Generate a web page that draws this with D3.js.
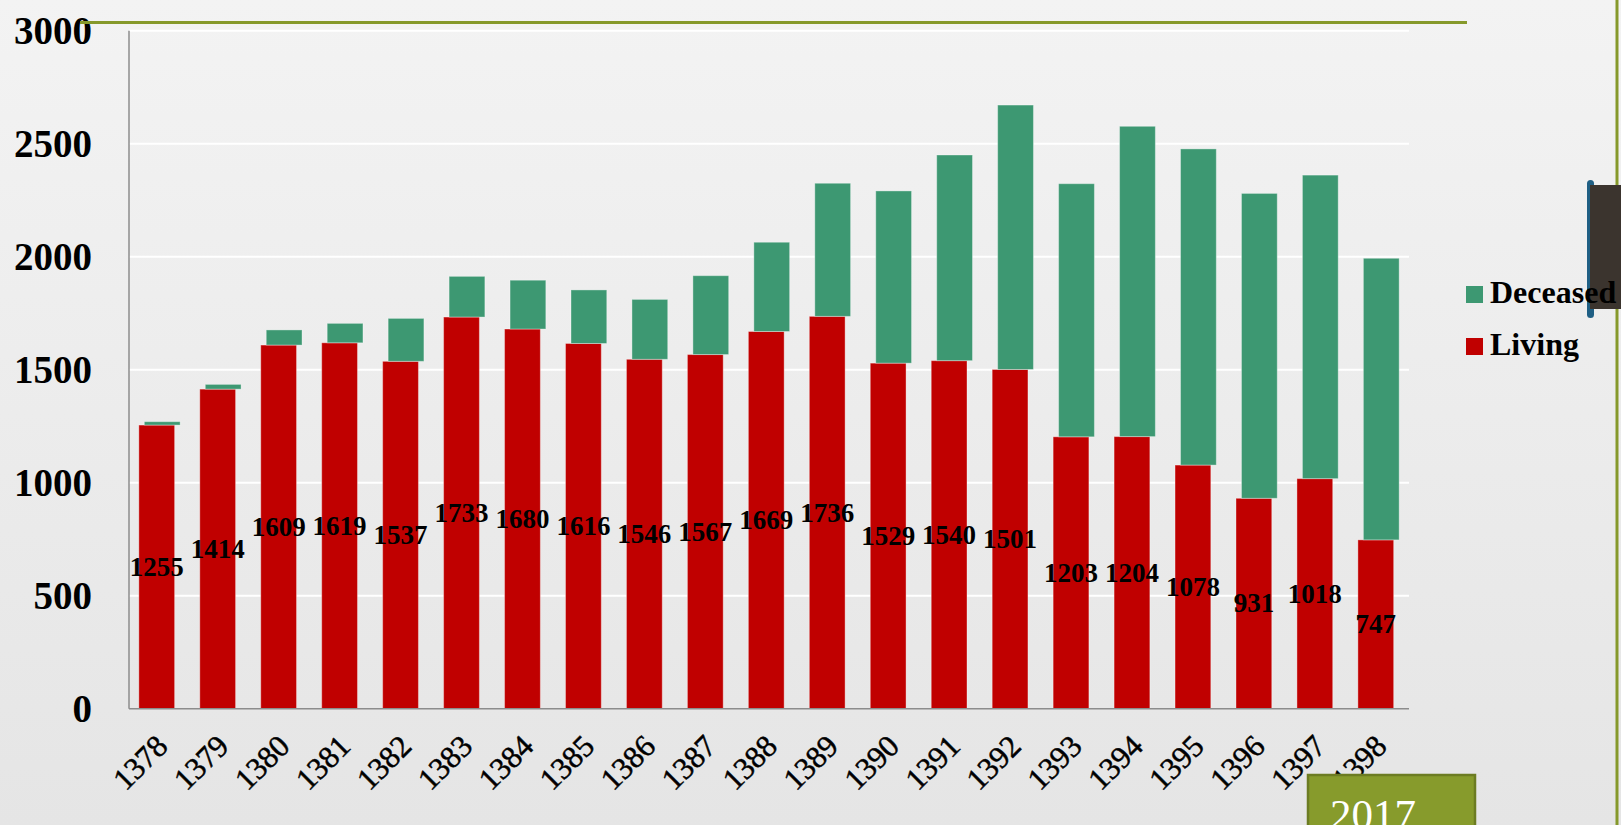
<!DOCTYPE html>
<html>
<head>
<meta charset="utf-8">
<script src="https://cdn.jsdelivr.net/npm/d3@7"></script>
<style>
  body { margin: 0; overflow: hidden; }
  svg { display: block; }
</style>
</head>
<body>
<script>
var years = ["1378", "1379", "1380", "1381", "1382", "1383", "1384", "1385", "1386", "1387",
  "1388", "1389", "1390", "1391", "1392", "1393", "1394", "1395", "1396", "1397", "1398"];
var living = [1255, 1414, 1609, 1619, 1537, 1733, 1680, 1616, 1546, 1567,
  1669, 1736, 1529, 1540, 1501, 1203, 1204, 1078, 931, 1018, 747];
var deceased = [15, 21, 67, 86, 190, 180, 216, 237, 265, 349,
  395, 589, 762, 910, 1170, 1120, 1373, 1399, 1349, 1343, 1246];
var yTicks = [0, 500, 1000, 1500, 2000, 2500, 3000];
var seriesNames = ["Living", "Deceased"];

var W = 1621, H = 825;
var red = "#c00000", green = "#3d9872", olive = "#86992b";
var serif = "'Liberation Serif', 'Times New Roman', serif";

var rows = years.map(function(y, i) {
  return {year: y, Living: living[i], Deceased: deceased[i]};
});

var svg = d3.select("body").append("svg")
    .attr("width", W)
    .attr("height", H);

var defs = svg.append("defs");
var bg = defs.append("linearGradient")
    .attr("id", "bg")
    .attr("x1", 0).attr("y1", 0).attr("x2", 0).attr("y2", 1);
bg.append("stop").attr("offset", "0%").attr("stop-color", "#f3f3f3");
bg.append("stop").attr("offset", "100%").attr("stop-color", "#e5e5e5");

svg.append("rect")
    .attr("width", W)
    .attr("height", H)
    .attr("fill", "url(#bg)");

var x = d3.scaleBand()
    .domain(years)
    .range([129, 1409])
    .paddingInner(0.323)
    .paddingOuter(0.1615);

var y = d3.scaleLinear()
    .domain([0, 3000])
    .range([708.7, 30.7]);

var barW = x.bandwidth() * 0.867;

// gridlines
svg.append("g")
  .selectAll("line")
    .data(yTicks.slice(1))
  .enter().append("line")
    .attr("x1", 129)
    .attr("x2", 1409)
    .attr("y1", function(d) { return y(d); })
    .attr("y2", function(d) { return y(d); })
    .attr("stroke", "#ffffff")
    .attr("stroke-width", 2);

var stack = d3.stack().keys(seriesNames)(rows);

// bars: living on left, deceased stacked and shifted to the right of the cluster
svg.append("g")
  .selectAll("g")
    .data(stack)
  .enter().append("g")
    .attr("fill", function(d) { return d.key == "Living" ? red : green; })
  .selectAll("rect")
    .data(function(d) { return d.map(function(v) { v.key = d.key; return v; }); })
  .enter().append("rect")
    .attr("x", function(d) {
      return d.key == "Living" ? x(d.data.year) : x(d.data.year) + x.bandwidth() - barW;
    })
    .attr("y", function(d) { return y(d[1]); })
    .attr("width", barW)
    .attr("height", function(d) { return y(d[0]) - y(d[1]); })
    .attr("stroke", "#ffffff")
    .attr("stroke-opacity", 0.35)
    .attr("stroke-width", 1);

// axes
var axisG = svg.append("g").attr("stroke", "#8c8c8c").attr("stroke-width", 1.5);
axisG.append("line")
    .attr("x1", 129).attr("x2", 129)
    .attr("y1", y(3000)).attr("y2", y(0));
axisG.append("line")
    .attr("x1", 129).attr("x2", 1409)
    .attr("y1", y(0)).attr("y2", y(0));

// y tick labels
svg.append("g")
  .selectAll("text")
    .data(yTicks)
  .enter().append("text")
    .attr("x", 92)
    .attr("y", function(d) { return y(d) + 13; })
    .attr("text-anchor", "end")
    .style("font-family", serif)
    .style("font-weight", "bold")
    .style("font-size", "39px")
    .attr("fill", "#000")
    .text(function(d) { return d; });

// x tick labels
svg.append("g")
  .selectAll("text")
    .data(years)
  .enter().append("text")
    .attr("text-anchor", "end")
    .attr("transform", function(d) {
      return "translate(" + [x(d) + x.bandwidth() / 2 + 10, 748] + ")rotate(-45)";
    })
    .style("font-family", serif)
    .style("font-size", "31px")
    .style("stroke", "#000")
    .style("stroke-width", 0.5)
    .attr("fill", "#000")
    .text(function(d) { return d; });

// data labels in the middle of living bars
svg.append("g")
  .selectAll("text")
    .data(rows)
  .enter().append("text")
    .attr("x", function(d) { return x(d.year) + barW / 2; })
    .attr("y", function(d) { return (y(0) + y(d.Living)) / 2 + 9; })
    .attr("text-anchor", "middle")
    .style("font-family", serif)
    .style("font-weight", "bold")
    .style("font-size", "27px")
    .attr("fill", "#000")
    .text(function(d) { return d.Living; });

// decorations
svg.append("line")
    .attr("x1", 80).attr("x2", 1467)
    .attr("y1", 22.5).attr("y2", 22.5)
    .attr("stroke", olive)
    .attr("stroke-width", 3);

svg.append("line")
    .attr("x1", 1617).attr("x2", 1617)
    .attr("y1", 0).attr("y2", H)
    .attr("stroke", olive)
    .attr("stroke-width", 3);

svg.append("rect")
    .attr("x", 1587).attr("y", 180)
    .attr("width", 7).attr("height", 138)
    .attr("rx", 3.5)
    .attr("fill", "#1f5f84");
svg.append("rect")
    .attr("x", 1590).attr("y", 185)
    .attr("width", 31).attr("height", 124)
    .attr("fill", "#3b342e");

// legend
var legend = svg.append("g")
  .selectAll("g")
    .data(["Deceased", "Living"])
  .enter().append("g")
    .attr("transform", function(d, i) { return "translate(1466," + (286 + i * 52) + ")"; });
legend.append("rect")
    .attr("width", 17)
    .attr("height", 17)
    .attr("fill", function(d) { return d == "Living" ? red : green; });
legend.append("text")
    .attr("x", 24)
    .attr("y", 17)
    .style("font-family", serif)
    .style("font-weight", "bold")
    .style("font-size", "32px")
    .attr("fill", "#000")
    .text(function(d) { return d; });

// 2017 box
svg.append("rect")
    .attr("x", 1308).attr("y", 775)
    .attr("width", 167).attr("height", 60)
    .attr("fill", "#879b2c")
    .attr("stroke", "#6c7c22")
    .attr("stroke-width", 2.5);
svg.append("text")
    .attr("x", 1373)
    .attr("y", 829)
    .attr("text-anchor", "middle")
    .style("font-family", serif)
    .style("font-size", "43px")
    .attr("fill", "#ffffff")
    .text("2017");
</script>
</body>
</html>
